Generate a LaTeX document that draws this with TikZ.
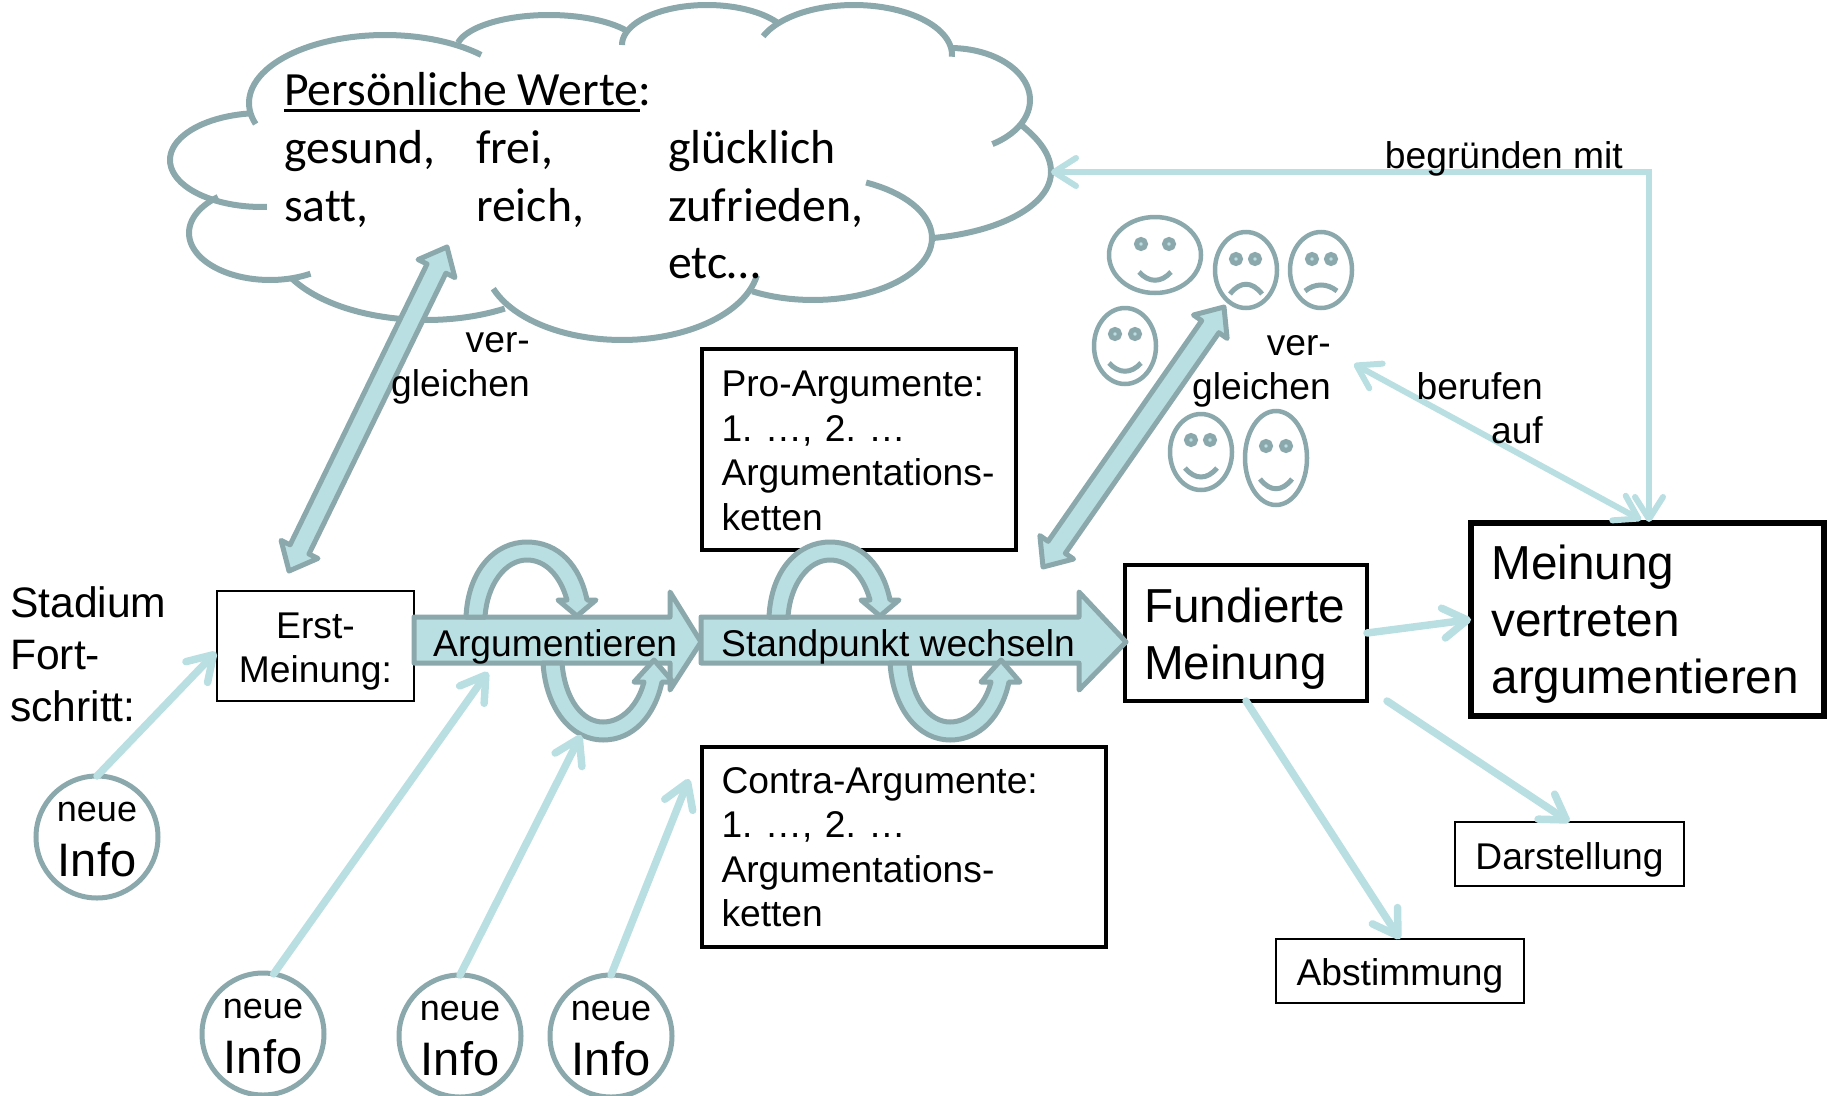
\documentclass[tikz,border=0pt]{standalone}
\usepackage{fontspec}
\setmainfont{Liberation Sans}
\newfontfamily\calibrifont[Ligatures=NoCommon]{Carlito}
\usetikzlibrary{arrows.meta,calc}
\frenchspacing
\definecolor{edgeC}{HTML}{8BA8AC}
\definecolor{fillC}{HTML}{B9DFE2}
\newcommand{\fsz}[2]{\fontsize{#1}{#2}\selectfont}
\newcommand{\pushd}[1]{\rule{0pt}{#1pt}}
\newcommand{\lobe}[6]{%
  \draw[cloudline] plot[domain=#5:#6,samples=50,variable=\t] ({#1+#3*cos(\t)},{#2-#4*sin(\t)});}
\newcommand{\topLoop}[1]{%
  \draw[fat,xshift=#1pt] (466,617) .. controls (468,570) and (495,542) .. (527,542)
    .. controls (558,542) and (580,565) .. (587,600) -- (596,600) -- (577,616) -- (558,600) -- (567,600)
    .. controls (560,575) and (545,560) .. (527,560) .. controls (505,560) and (487,585) .. (485,617) -- cycle;}
\newcommand{\botLoop}[1]{%
  \draw[fat,xshift=#1pt] (543,663) .. controls (546,710) and (572,740) .. (603,740)
    .. controls (634,740) and (655,715) .. (662,682) -- (673,682) -- (654,660) -- (634,682) -- (644,682)
    .. controls (638,705) and (622,722) .. (603,722) .. controls (583,722) and (565,700) .. (562,663) -- cycle;}
\newcommand{\fatDouble}[2]{%
  \draw[fat] (#1)
    -- ($(#1)!24pt!(#2)!20.5pt!90:(#2)$) -- ($(#1)!24pt!(#2)!10.5pt!90:(#2)$)
    -- ($(#2)!24pt!(#1)!10.5pt!-90:(#1)$) -- ($(#2)!24pt!(#1)!20.5pt!-90:(#1)$)
    -- (#2)
    -- ($(#2)!24pt!(#1)!20.5pt!90:(#1)$) -- ($(#2)!24pt!(#1)!10.5pt!90:(#1)$)
    -- ($(#1)!24pt!(#2)!10.5pt!-90:(#2)$) -- ($(#1)!24pt!(#2)!20.5pt!-90:(#2)$) -- cycle;}
\newcommand{\smiley}[9]{%
  \draw[face] (#1,#2) ellipse [x radius=#3,y radius=#4];
  \draw[eye] (#5,#7) ellipse [x radius=4.5,y radius=4.5];
  \draw[eye] (#6,#7) ellipse [x radius=4.5,y radius=4.5];
  \draw[face,line width=5pt] ({#1-16},#8) .. controls ({#1-6},#9) and ({#1+6},#9) .. ({#1+16},#8);}
\newcommand{\infotext}{\pushd{24}neue\\{\fsz{47}{55}Info}}
\tikzset{
  cloudline/.style={draw=edgeC,line width=6pt},
  fat/.style={draw=edgeC,fill=fillC,line width=5pt,line join=round},
  face/.style={draw=edgeC,line width=4.5pt},
  eye/.style={draw=edgeC,fill=fillC,line width=5pt},
  info/.style={-{Straight Barb[length=24pt,width=30pt,round]},draw=fillC,line width=7.5pt,line cap=round},
  dinfo/.style={{Straight Barb[length=22pt,width=28pt,round]}-{Straight Barb[length=22pt,width=28pt,round]},draw=fillC,line width=6pt,line cap=round},
  txt/.style={font=\fsz{37.2}{44.5},inner sep=0pt,align=left},
  clouded/.style={font=\calibrifont\fsz{47.7}{58},inner sep=0pt,anchor=base west},
  thinbox/.style={draw=black,line width=2.2pt,fill=white,inner sep=0pt,outer sep=0pt,font=\fsz{37.2}{44.5},align=center},
  midbox/.style={draw=black,line width=3.6pt,fill=white,inner sep=0pt,outer sep=0pt,font=\fsz{37.2}{44.5},align=left},
  infocircle/.style={draw=edgeC,line width=5pt,fill=white,circle,minimum size=122pt,inner sep=0pt,outer sep=0pt,align=center,font=\fsz{36}{55}},
}
\begin{document}
\begin{tikzpicture}[x=1pt,y=-1pt]
\useasboundingbox (0,0) rectangle (1831,1095);
% cloud
\lobe{385}{103}{136}{68}{198}{45}
\lobe{549}{50}{93}{35}{168}{35}
\lobe{707}{45}{85}{40}{180}{33}
\lobe{854}{55}{98}{50}{158}{-2}
\lobe{950}{100}{80}{52}{90}{-58}
\draw[cloudline] (1020,124) .. controls (1040,140) and (1051,155) .. (1051,172) .. controls (1051,205) and (1000,232) .. (933,238);
\lobe{813}{238}{119}{62}{63.5}{-120.7}
\lobe{622}{262}{137}{78}{-10}{-160}
\lobe{426}{240}{153}{80}{-59}{-152}
\lobe{270}{233}{81}{47}{-60}{-230}
\lobe{262}{160}{92}{47}{-87}{-262}
% cloud text
\node[clouded] (pw) at (284,105) {\rlap{\rule[-7pt]{356pt}{3.4pt}}Persönliche Werte:};
\node[clouded] (c11) at (284,163.5) {gesund,};
\node[clouded] (c12) at (476,163.5) {frei,};
\node[clouded] (c13) at (668,163.5) {glücklich};
\node[clouded] (c21) at (284,221) {satt,};
\node[clouded] (c22) at (476,221) {reich,};
\node[clouded] (c23) at (668,221) {zufrieden,};
\node[clouded] (c33) at (668,278) {etc…};
% boxes
\node[midbox,minimum width=314pt,minimum height=201pt,text width=275pt] (pro) at (859,449.5)
  {\pushd{28}Pro-Argumente:\\1. …, 2. …\\Argumentations-\\ketten};
\node[midbox,minimum width=404pt,minimum height=200pt,text width=365pt] (contra) at (904,847)
  {Contra-Argumente:\\1. …, 2. …\\Argumentations-\\ketten};
\node[thinbox,minimum width=197pt,minimum height=110pt] (erst) at (315.5,646) {\pushd{36.5}Erst-\\Meinung:};
\node[midbox,minimum width=242pt,minimum height=136pt,text width=204pt,font=\fsz{47.7}{57}] (fund) at (1246,633) {\pushd{46}Fundierte\\Meinung};
\node[midbox,line width=5.5pt,minimum width=353pt,minimum height=193pt,text width=312pt,font=\fsz{47.7}{57}] (mein) at (1647.5,619.5) {\pushd{44}Meinung\\vertreten\\argumentieren};
\node[thinbox,minimum width=229pt,minimum height=64pt] (darst) at (1569.5,854) {\pushd{39}Darstellung};
\node[thinbox,minimum width=248pt,minimum height=64pt] (abst) at (1400,971) {\pushd{36.5}Abstimmung};
% big process arrows
\draw[fat] (414,617) -- (670,617) -- (670,592) -- (701,642) -- (670,690) -- (670,663) -- (414,663) -- cycle;
\draw[fat] (701,617) -- (1079,617) -- (1079,592) -- (1126,642) -- (1079,690) -- (1079,663) -- (701,663) -- cycle;
\topLoop{0}
\topLoop{303}
\botLoop{0}
\botLoop{347}
\node[txt,anchor=base west] (argu) at (433,656) {Argumentieren};
\node[txt,anchor=base west] (stand) at (721,656) {Standpunkt wechseln};
% circles
\node[infocircle] (i1) at (97,837) {\infotext};
\node[infocircle] (i2) at (263,1034) {\infotext};
\node[infocircle] (i3) at (460,1036) {\infotext};
\node[infocircle] (i4) at (611,1036) {\infotext};
% side text
\node[txt,font=\fsz{42.6}{52},anchor=north west] (stad) at (10,586) {Stadium\\Fort-\\schritt:};
% info arrows
\coordinate (t1) at (216,652);
\coordinate (t2) at (488,672);
\coordinate (t3) at (581,735);
\coordinate (t4) at (689,779);
\draw[info] (i1.north) -- (t1);
\draw[info] (i2.80) -- (t2);
\draw[info] (i3.north) -- (t3);
\draw[info] (i4.north) -- (t4);
\draw[info] (fund.east) -- (mein.west);
\coordinate (dstart) at (1387,701);
\draw[info] (dstart) -- (darst.north);
\draw[info] (fund.south) -- (abst.north);
\coordinate (cloudR) at (1051,172);
\coordinate (meinTop) at (1649,522);
\coordinate (corner) at (1649,172);
\draw[dinfo] (meinTop) -- (corner) -- (cloudR);
\coordinate (berA) at (1354,364);
\coordinate (berB) at (1641,520);
\draw[dinfo] (berA) -- (berB);
% fat double arrows
\coordinate (la) at (289,571);
\coordinate (lb) at (447,247);
\fatDouble{la}{lb}
\coordinate (ra) at (1043,567);
\coordinate (rb) at (1224,307);
\fatDouble{ra}{rb}
% faces
\smiley{1155}{255}{46}{38}{1141}{1169}{244}{272}{283}
\smiley{1246}{270}{31}{38}{1236}{1255}{259}{294}{281}
\smiley{1321}{270}{31}{38}{1312}{1331}{259}{291}{283}
\smiley{1125}{346}{31}{38}{1115}{1135}{334}{363}{374}
\smiley{1201}{452}{31}{38}{1191}{1210}{440}{468}{480}
\smiley{1276}{458}{31}{47}{1266}{1286}{446}{479}{492}
% labels
\node[txt,align=right,anchor=north east] (v1) at (530,332) {ver-\\gleichen};
\node[txt,align=right,anchor=north east] (v2) at (1331,335) {ver-\\gleichen};
\node[txt,align=right,anchor=north east] (ber) at (1543,372) {berufen\\auf};
\node[txt,anchor=base east] (beg) at (1623,168) {begründen mit};
\end{tikzpicture}
\end{document}
